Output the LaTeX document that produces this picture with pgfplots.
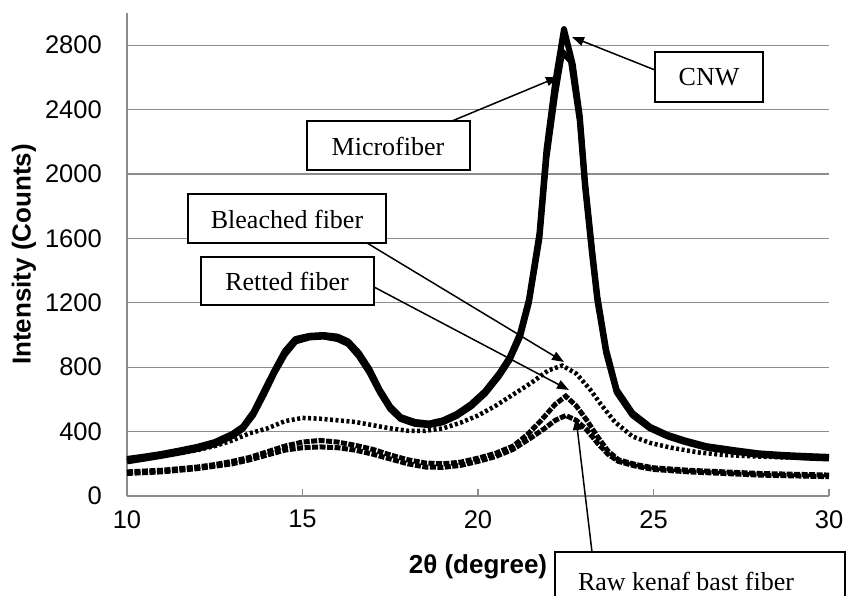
\documentclass[border=0pt]{standalone}
\usepackage{pgfplots}
\pgfplotsset{compat=1.18}
\usepackage{fontspec}
\setmainfont{Liberation Serif}
\newfontfamily\arial{Liberation Sans}
\usetikzlibrary{arrows.meta}
\definecolor{gridgray}{RGB}{140,140,140}

\begin{document}
\begin{tikzpicture}
\path[use as bounding box] (0pt,0pt) rectangle (846pt,595pt);
\begin{axis}[
    at={(127pt,99pt)}, anchor=south west,
    width=702pt, height=483pt, scale only axis,
    xmin=10, xmax=30, ymin=0, ymax=3000,
    xtick={10,15,20,25,30},
    xticklabels={10,15,20,25,30},
    ytick={0,400,800,1200,1600,2000,2400,2800},
    yticklabels={0,400,800,1200,1600,2000,2400,2800},
    axis x line*=bottom, axis y line*=left,
    axis line style={draw=gridgray, line width=1.2pt},
    ymajorgrids,
    grid style={draw=gridgray, line width=1.2pt},
    major tick length=7pt,
    xtick style={draw=gridgray, line width=1.2pt},
    ytick style={draw=none},
    tick label style={font=\arial\fontsize{25.5}{30}\selectfont, inner sep=0pt},
    yticklabel style={anchor=east, xshift=-25pt},
    xticklabel style={anchor=north, yshift=-14pt},
    xlabel={2θ (degree)},
    ylabel={Intensity (Counts)},
    label style={font=\arial\bfseries\fontsize{26}{30}\selectfont},
    xlabel style={at={(axis description cs:0.5,-0.147)}, anchor=center},
    ylabel style={at={(axis description cs:-0.147,0.5)}, anchor=center, rotate=0},
    clip=false,
]
% CNW
\addplot[black, line width=6pt, line join=round] coordinates {
(10,230) (10.5,245) (11,262) (11.5,283) (12,305) (12.5,335) (13,385) (13.3,430)
(13.6,520) (13.9,650) (14.2,780) (14.5,900) (14.8,975) (15.2,995) (15.6,1000)
(16.0,990) (16.3,960) (16.6,890) (16.9,790) (17.2,660) (17.5,555) (17.8,490)
(18.2,460) (18.6,450) (19.0,470) (19.4,510) (19.8,570) (20.2,650) (20.6,760)
(20.9,860) (21.2,1010) (21.45,1220) (21.75,1630) (21.95,2150) (22.2,2570)
(22.45,2900) (22.7,2680) (22.9,2360) (23.05,1950) (23.25,1530) (23.4,1240)
(23.65,910) (23.95,660) (24.4,515) (24.9,430) (25.4,380) (25.9,345) (26.5,310)
(27.3,285) (28.0,265) (28.7,255) (29.4,248) (30,243)
};
% Microfiber
\addplot[black, line width=6pt, line join=round] coordinates {
(10,215) (10.5,232) (11,250) (11.5,270) (12,292) (12.5,322) (13,372) (13.3,418)
(13.6,505) (13.9,630) (14.2,765) (14.5,880) (14.8,960) (15.2,985) (15.6,990)
(16.0,975) (16.3,945) (16.6,870) (16.9,770) (17.2,645) (17.5,540) (17.8,478)
(18.2,448) (18.6,440) (19.0,458) (19.4,498) (19.8,556) (20.2,636) (20.6,745)
(20.9,845) (21.2,990) (21.45,1200) (21.75,1600) (21.95,2100) (22.2,2500)
(22.4,2760) (22.65,2700) (22.9,2330) (23.05,1920) (23.25,1500) (23.4,1215)
(23.65,890) (23.95,645) (24.4,502) (24.9,420) (25.4,370) (25.9,335) (26.5,300)
(27.3,275) (28.0,256) (28.7,246) (29.4,238) (30,233)
};
% Bleached fiber
\addplot[black, line width=4.5pt, dash pattern=on 3pt off 2.5pt] coordinates {
(10,220) (10.5,235) (11,250) (11.5,265) (12,285) (12.5,310) (13,345) (13.5,390)
(14,420) (14.5,465) (15,485) (15.5,480) (16,470) (16.5,460) (17,440) (17.5,420)
(18,405) (18.5,405) (19,420) (19.5,455) (20,500) (20.5,560) (21,630) (21.5,700)
(22,780) (22.4,810) (22.8,760) (23.2,660) (23.5,570) (23.9,460) (24.4,370)
(24.9,330) (25.5,300) (26.3,270) (27,255) (28,245) (29,238) (30,235)
};
% Retted fiber
\addplot[black, line width=5pt, dash pattern=on 6pt off 1.5pt] coordinates {
(10,150) (10.5,155) (11,160) (11.5,170) (12,180) (12.5,195) (13,215) (13.5,240)
(14,275) (14.5,310) (15,335) (15.5,345) (16,335) (16.5,315) (17,290) (17.5,255)
(18,225) (18.5,205) (19,200) (19.5,210) (20,235) (20.5,265) (21,310) (21.4,380)
(21.8,470) (22.2,570) (22.5,620) (22.8,560) (23.1,470) (23.4,370) (23.7,280)
(24,225) (24.5,195) (25,175) (26,160) (27,150) (28,140) (29,135) (30,130)
};
% Raw kenaf bast fiber
\addplot[black, line width=5pt, dash pattern=on 6pt off 1.5pt] coordinates {
(10,140) (10.5,145) (11,150) (11.5,160) (12,170) (12.5,185) (13,200) (13.5,225)
(14,255) (14.5,285) (15,300) (15.5,305) (16,300) (16.5,285) (17,260) (17.5,230)
(18,200) (18.5,180) (19,178) (19.5,190) (20,215) (20.5,245) (21,290) (21.5,360)
(21.9,420) (22.2,470) (22.5,500) (22.8,470) (23.1,410) (23.4,330) (23.7,260)
(24,215) (24.5,185) (25,165) (26,150) (27,140) (28,130) (29,125) (30,120)
};
\end{axis}
\begin{scope}[x=1pt, y=1pt, line width=1.5pt,
  every node/.style={font=\fontsize{26}{30}\selectfont, inner sep=0pt},
  arr/.style={line width=1.5pt, -{Triangle[length=12pt,width=9pt]}}]
% CNW
\draw[fill=white] (655,493) rectangle (763,543);
\node at (709,518) {CNW};
\draw[arr] (655,525) -- (572,558);
% Microfiber
\draw[fill=white] (307,425) rectangle (470,474);
\node at (388,449) {Microfiber};
\draw[arr] (452,474) -- (558,518);
% Bleached fiber
\draw[fill=white] (188,352) rectangle (386,401);
\node at (287,376) {Bleached fiber};
\draw[arr] (367,352) -- (564,233);
% Retted fiber
\draw[fill=white] (201,290) rectangle (374,338);
\node at (287,314) {Retted fiber};
\draw[arr] (374,308) -- (569,205);
% Raw kenaf bast fiber
\draw[fill=white] (555,-15) rectangle (845,43);
\node[anchor=base] at (686,5) {Raw kenaf bast fiber};
\draw[arr] (592,43) -- (576,177);
\end{scope}
\end{tikzpicture}
\end{document}
